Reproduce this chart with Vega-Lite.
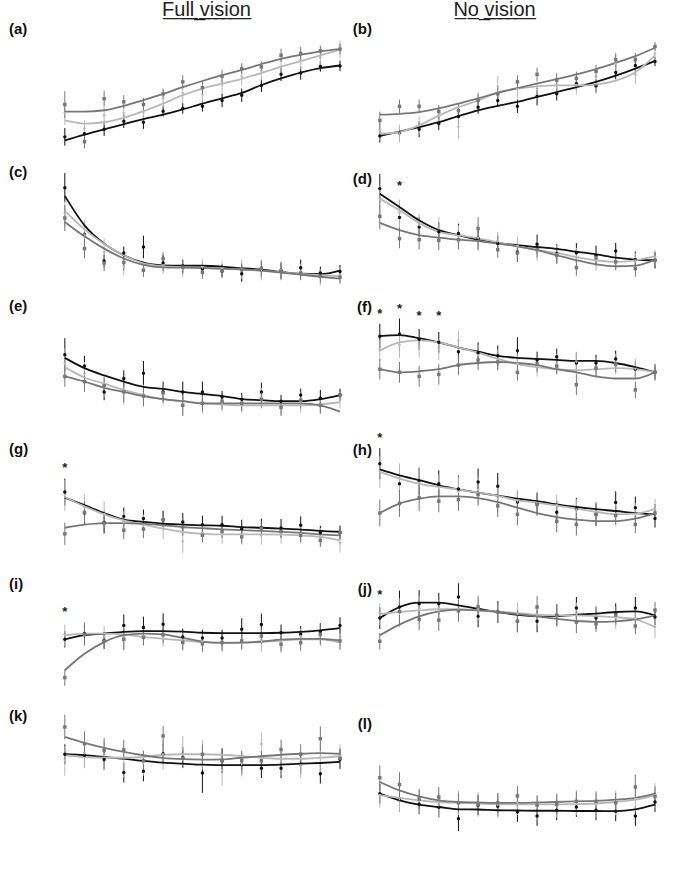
{
"$schema":"https://vega.github.io/schema/vega-lite/v6.json",
"background":"white",
"padding":{"left":9,"top":0,"right":5,"bottom":0},
"bounds":"flush",
"columns":2,
"spacing":{"row":11.4,"column":30},
"config":{
 "font":"Liberation Sans",
 "view":{"stroke":null},
 "axis":{"grid":false,"domainColor":"#555","tickColor":"#555","labelFontWeight":"bold","titleFontWeight":"bold","labelColor":"#333","titleColor":"#333"},
 "axisX":{"tickSize":3,"labelFontSize":12,"titleFontSize":12,"labelPadding":4,"titlePadding":12,"labelColor":"#222","titleColor":"#222"},
 "axisY":{"ticks":false,"labelFontSize":9,"labelPadding":9,"titleFontSize":9,"titlePadding":3,"titleLineHeight":12.5},
 "title":{"fontSize":20,"fontWeight":"normal","color":"#222","baseline":"alphabetic","offset":2,"anchor":"middle"}
},
"datasets":{
"s":[{"p":"d","l":2,"y":12.9},{"p":"f","l":1,"y":9.11},{"p":"f","l":2,"y":9.16},{"p":"f","l":3,"y":9.09},{"p":"f","l":4,"y":9.09},{"p":"g","l":1,"y":68.1},{"p":"h","l":1,"y":81.6},{"p":"i","l":1,"y":57.6},{"p":"j","l":1,"y":63.9}],
"d":[
{"p":"a","m":"Metal","l":1,"y":-1.02,"e":0.2,"f":-1.1},{"p":"a","m":"Metal","l":2,"y":-0.95,"e":0.15,"f":-0.97},{"p":"a","m":"Metal","l":3,"y":-0.85,"e":0.15,"f":-0.85},{"p":"a","m":"Metal","l":4,"y":-0.67,"e":0.15,"f":-0.73},{"p":"a","m":"Metal","l":5,"y":-0.69,"e":0.15,"f":-0.62},{"p":"a","m":"Metal","l":6,"y":-0.44,"e":0.12,"f":-0.52},{"p":"a","m":"Metal","l":7,"y":-0.38,"e":0.12,"f":-0.4},{"p":"a","m":"Metal","l":8,"y":-0.33,"e":0.12,"f":-0.27},{"p":"a","m":"Metal","l":9,"y":-0.2,"e":0.15,"f":-0.15},{"p":"a","m":"Metal","l":10,"y":-0.08,"e":0.15,"f":-0.03},{"p":"a","m":"Metal","l":11,"y":0.14,"e":0.15,"f":0.15},{"p":"a","m":"Metal","l":12,"y":0.39,"e":0.15,"f":0.3},{"p":"a","m":"Metal","l":13,"y":0.42,"e":0.15,"f":0.43},{"p":"a","m":"Metal","l":14,"y":0.57,"e":0.12,"f":0.53},{"p":"a","m":"Metal","l":15,"y":0.58,"e":0.12,"f":0.59},
{"p":"a","m":"Wood","l":1,"y":-0.5,"e":0.25,"f":-0.65},{"p":"a","m":"Wood","l":2,"y":-0.85,"e":0.2,"f":-0.72},{"p":"a","m":"Wood","l":3,"y":-0.55,"e":0.2,"f":-0.69},{"p":"a","m":"Wood","l":4,"y":-0.5,"e":0.2,"f":-0.59},{"p":"a","m":"Wood","l":5,"y":-0.48,"e":0.2,"f":-0.44},{"p":"a","m":"Wood","l":6,"y":-0.16,"e":0.2,"f":-0.27},{"p":"a","m":"Wood","l":7,"y":-0.05,"e":0.2,"f":-0.08},{"p":"a","m":"Wood","l":8,"y":-0.08,"e":0.2,"f":0.07},{"p":"a","m":"Wood","l":9,"y":0.15,"e":0.2,"f":0.18},{"p":"a","m":"Wood","l":10,"y":0.33,"e":0.2,"f":0.29},{"p":"a","m":"Wood","l":11,"y":0.45,"e":0.2,"f":0.42},{"p":"a","m":"Wood","l":12,"y":0.55,"e":0.2,"f":0.56},{"p":"a","m":"Wood","l":13,"y":0.7,"e":0.2,"f":0.69},{"p":"a","m":"Wood","l":14,"y":0.75,"e":0.2,"f":0.82},{"p":"a","m":"Wood","l":15,"y":0.95,"e":0.2,"f":0.95},
{"p":"a","m":"Polystyrene","l":1,"y":-0.29,"e":0.3,"f":-0.45},{"p":"a","m":"Polystyrene","l":2,"y":-1.13,"e":0.15,"f":-0.45},{"p":"a","m":"Polystyrene","l":3,"y":-0.16,"e":0.18,"f":-0.42},{"p":"a","m":"Polystyrene","l":4,"y":-0.23,"e":0.15,"f":-0.32},{"p":"a","m":"Polystyrene","l":5,"y":-0.29,"e":0.15,"f":-0.19},{"p":"a","m":"Polystyrene","l":6,"y":-0.05,"e":0.12,"f":-0.05},{"p":"a","m":"Polystyrene","l":7,"y":0.22,"e":0.15,"f":0.1},{"p":"a","m":"Polystyrene","l":8,"y":0.09,"e":0.15,"f":0.24},{"p":"a","m":"Polystyrene","l":9,"y":0.35,"e":0.15,"f":0.37},{"p":"a","m":"Polystyrene","l":10,"y":0.52,"e":0.12,"f":0.49},{"p":"a","m":"Polystyrene","l":11,"y":0.56,"e":0.12,"f":0.62},{"p":"a","m":"Polystyrene","l":12,"y":0.82,"e":0.15,"f":0.74},{"p":"a","m":"Polystyrene","l":13,"y":0.86,"e":0.15,"f":0.83},{"p":"a","m":"Polystyrene","l":14,"y":0.92,"e":0.12,"f":0.91},{"p":"a","m":"Polystyrene","l":15,"y":0.96,"e":0.12,"f":0.96},
{"p":"b","m":"Metal","l":1,"y":-1.0,"e":0.15,"f":-1.0},{"p":"b","m":"Metal","l":2,"y":-0.93,"e":0.15,"f":-0.9},{"p":"b","m":"Metal","l":3,"y":-0.85,"e":0.18,"f":-0.8},{"p":"b","m":"Metal","l":4,"y":-0.72,"e":0.15,"f":-0.69},{"p":"b","m":"Metal","l":5,"y":-0.56,"e":0.18,"f":-0.55},{"p":"b","m":"Metal","l":6,"y":-0.35,"e":0.15,"f":-0.42},{"p":"b","m":"Metal","l":7,"y":-0.2,"e":0.15,"f":-0.32},{"p":"b","m":"Metal","l":8,"y":-0.33,"e":0.15,"f":-0.23},{"p":"b","m":"Metal","l":9,"y":-0.11,"e":0.2,"f":-0.12},{"p":"b","m":"Metal","l":10,"y":-0.05,"e":0.15,"f":-0.01},{"p":"b","m":"Metal","l":11,"y":0.18,"e":0.15,"f":0.1},{"p":"b","m":"Metal","l":12,"y":0.13,"e":0.15,"f":0.22},{"p":"b","m":"Metal","l":13,"y":0.43,"e":0.15,"f":0.36},{"p":"b","m":"Metal","l":14,"y":0.59,"e":0.15,"f":0.52},{"p":"b","m":"Metal","l":15,"y":0.68,"e":0.1,"f":0.69},
{"p":"b","m":"Wood","l":1,"y":-0.89,"e":0.2,"f":-0.95},{"p":"b","m":"Wood","l":2,"y":-0.95,"e":0.2,"f":-0.91},{"p":"b","m":"Wood","l":3,"y":-0.76,"e":0.2,"f":-0.76},{"p":"b","m":"Wood","l":4,"y":-0.54,"e":0.2,"f":-0.54},{"p":"b","m":"Wood","l":5,"y":-0.81,"e":0.25,"f":-0.35},{"p":"b","m":"Wood","l":6,"y":-0.2,"e":0.2,"f":-0.2},{"p":"b","m":"Wood","l":7,"y":0.1,"e":0.25,"f":-0.01},{"p":"b","m":"Wood","l":8,"y":0.05,"e":0.2,"f":0.07},{"p":"b","m":"Wood","l":9,"y":0.03,"e":0.2,"f":0.12},{"p":"b","m":"Wood","l":10,"y":0.12,"e":0.2,"f":0.14},{"p":"b","m":"Wood","l":11,"y":0.14,"e":0.2,"f":0.14},{"p":"b","m":"Wood","l":12,"y":0.16,"e":0.2,"f":0.16},{"p":"b","m":"Wood","l":13,"y":0.62,"e":0.2,"f":0.25},{"p":"b","m":"Wood","l":14,"y":0.37,"e":0.2,"f":0.44},{"p":"b","m":"Wood","l":15,"y":0.85,"e":0.2,"f":0.82},
{"p":"b","m":"Polystyrene","l":1,"y":-0.65,"e":0.2,"f":-0.52},{"p":"b","m":"Polystyrene","l":2,"y":-0.33,"e":0.15,"f":-0.5},{"p":"b","m":"Polystyrene","l":3,"y":-0.33,"e":0.15,"f":-0.46},{"p":"b","m":"Polystyrene","l":4,"y":-0.45,"e":0.15,"f":-0.38},{"p":"b","m":"Polystyrene","l":5,"y":-0.43,"e":0.15,"f":-0.27},{"p":"b","m":"Polystyrene","l":6,"y":-0.2,"e":0.15,"f":-0.15},{"p":"b","m":"Polystyrene","l":7,"y":-0.05,"e":0.15,"f":-0.03},{"p":"b","m":"Polystyrene","l":8,"y":0.22,"e":0.15,"f":0.08},{"p":"b","m":"Polystyrene","l":9,"y":0.39,"e":0.15,"f":0.18},{"p":"b","m":"Polystyrene","l":10,"y":0.26,"e":0.15,"f":0.28},{"p":"b","m":"Polystyrene","l":11,"y":0.3,"e":0.15,"f":0.39},{"p":"b","m":"Polystyrene","l":12,"y":0.46,"e":0.15,"f":0.51},{"p":"b","m":"Polystyrene","l":13,"y":0.72,"e":0.15,"f":0.65},{"p":"b","m":"Polystyrene","l":14,"y":0.72,"e":0.15,"f":0.8},{"p":"b","m":"Polystyrene","l":15,"y":1.02,"e":0.1,"f":0.99},
{"p":"c","m":"Metal","l":1,"y":12.63,"e":0.9,"f":12.12},{"p":"c","m":"Metal","l":2,"y":9.75,"e":0.6,"f":10.3},{"p":"c","m":"Metal","l":3,"y":8.1,"e":0.4,"f":9.17},{"p":"c","m":"Metal","l":4,"y":8.59,"e":0.4,"f":8.45},{"p":"c","m":"Metal","l":5,"y":8.96,"e":0.7,"f":7.99},{"p":"c","m":"Metal","l":6,"y":7.97,"e":0.5,"f":7.83},{"p":"c","m":"Metal","l":7,"y":7.78,"e":0.4,"f":7.8},{"p":"c","m":"Metal","l":8,"y":7.6,"e":0.4,"f":7.8},{"p":"c","m":"Metal","l":9,"y":7.48,"e":0.4,"f":7.75},{"p":"c","m":"Metal","l":10,"y":7.31,"e":0.5,"f":7.65},{"p":"c","m":"Metal","l":11,"y":7.56,"e":0.5,"f":7.56},{"p":"c","m":"Metal","l":12,"y":7.52,"e":0.5,"f":7.42},{"p":"c","m":"Metal","l":13,"y":7.68,"e":0.5,"f":7.31},{"p":"c","m":"Metal","l":14,"y":7.35,"e":0.4,"f":7.28},{"p":"c","m":"Metal","l":15,"y":7.45,"e":0.4,"f":7.5},
{"p":"c","m":"Wood","l":1,"y":11.0,"e":0.8,"f":11.19},{"p":"c","m":"Wood","l":2,"y":9.7,"e":0.9,"f":10.05},{"p":"c","m":"Wood","l":3,"y":8.6,"e":0.9,"f":9.15},{"p":"c","m":"Wood","l":4,"y":7.7,"e":0.5,"f":8.45},{"p":"c","m":"Wood","l":5,"y":7.6,"e":0.5,"f":7.95},{"p":"c","m":"Wood","l":6,"y":7.8,"e":0.5,"f":7.78},{"p":"c","m":"Wood","l":7,"y":7.6,"e":0.5,"f":7.72},{"p":"c","m":"Wood","l":8,"y":7.7,"e":0.5,"f":7.68},{"p":"c","m":"Wood","l":9,"y":7.6,"e":0.5,"f":7.62},{"p":"c","m":"Wood","l":10,"y":7.6,"e":0.6,"f":7.57},{"p":"c","m":"Wood","l":11,"y":7.5,"e":0.6,"f":7.5},{"p":"c","m":"Wood","l":12,"y":7.5,"e":0.6,"f":7.4},{"p":"c","m":"Wood","l":13,"y":7.4,"e":0.5,"f":7.3},{"p":"c","m":"Wood","l":14,"y":7.1,"e":0.5,"f":7.22},{"p":"c","m":"Wood","l":15,"y":7.2,"e":0.5,"f":7.15},
{"p":"c","m":"Polystyrene","l":1,"y":10.75,"e":0.8,"f":10.51},{"p":"c","m":"Polystyrene","l":2,"y":8.86,"e":0.6,"f":9.62},{"p":"c","m":"Polystyrene","l":3,"y":7.97,"e":0.5,"f":8.86},{"p":"c","m":"Polystyrene","l":4,"y":8.0,"e":0.5,"f":8.25},{"p":"c","m":"Polystyrene","l":5,"y":7.52,"e":0.4,"f":7.85},{"p":"c","m":"Polystyrene","l":6,"y":8.24,"e":0.4,"f":7.7},{"p":"c","m":"Polystyrene","l":7,"y":7.7,"e":0.4,"f":7.68},{"p":"c","m":"Polystyrene","l":8,"y":7.4,"e":0.4,"f":7.66},{"p":"c","m":"Polystyrene","l":9,"y":7.5,"e":0.4,"f":7.62},{"p":"c","m":"Polystyrene","l":10,"y":7.55,"e":0.4,"f":7.58},{"p":"c","m":"Polystyrene","l":11,"y":7.65,"e":0.5,"f":7.5},{"p":"c","m":"Polystyrene","l":12,"y":7.45,"e":0.5,"f":7.38},{"p":"c","m":"Polystyrene","l":13,"y":7.35,"e":0.4,"f":7.25},{"p":"c","m":"Polystyrene","l":14,"y":7.15,"e":0.4,"f":7.12},{"p":"c","m":"Polystyrene","l":15,"y":7.1,"e":0.4,"f":7.0},
{"p":"d","m":"Metal","l":1,"y":12.57,"e":0.9,"f":12.26},{"p":"d","m":"Metal","l":2,"y":10.78,"e":0.9,"f":11.44},{"p":"d","m":"Metal","l":3,"y":10.2,"e":0.6,"f":10.61},{"p":"d","m":"Metal","l":4,"y":9.9,"e":0.6,"f":10.0},{"p":"d","m":"Metal","l":5,"y":9.8,"e":0.6,"f":9.69},{"p":"d","m":"Metal","l":6,"y":9.5,"e":0.7,"f":9.41},{"p":"d","m":"Metal","l":7,"y":9.17,"e":0.5,"f":9.21},{"p":"d","m":"Metal","l":8,"y":8.65,"e":0.6,"f":9.07},{"p":"d","m":"Metal","l":9,"y":9.13,"e":0.6,"f":8.96},{"p":"d","m":"Metal","l":10,"y":8.55,"e":0.6,"f":8.84},{"p":"d","m":"Metal","l":11,"y":8.6,"e":0.6,"f":8.67},{"p":"d","m":"Metal","l":12,"y":8.45,"e":0.6,"f":8.51},{"p":"d","m":"Metal","l":13,"y":8.71,"e":0.5,"f":8.3},{"p":"d","m":"Metal","l":14,"y":8.18,"e":0.5,"f":8.18},{"p":"d","m":"Metal","l":15,"y":8.14,"e":0.5,"f":8.14},
{"p":"d","m":"Wood","l":1,"y":11.9,"e":0.9,"f":11.95},{"p":"d","m":"Wood","l":2,"y":11.0,"e":0.9,"f":11.23},{"p":"d","m":"Wood","l":3,"y":10.3,"e":0.7,"f":10.45},{"p":"d","m":"Wood","l":4,"y":10.1,"e":0.7,"f":9.89},{"p":"d","m":"Wood","l":5,"y":9.6,"e":0.7,"f":9.69},{"p":"d","m":"Wood","l":6,"y":9.5,"e":0.8,"f":9.5},{"p":"d","m":"Wood","l":7,"y":9.3,"e":0.6,"f":9.25},{"p":"d","m":"Wood","l":8,"y":9.0,"e":0.6,"f":9.0},{"p":"d","m":"Wood","l":9,"y":8.7,"e":0.6,"f":8.76},{"p":"d","m":"Wood","l":10,"y":8.5,"e":0.6,"f":8.59},{"p":"d","m":"Wood","l":11,"y":8.3,"e":0.6,"f":8.34},{"p":"d","m":"Wood","l":12,"y":8.1,"e":0.6,"f":8.14},{"p":"d","m":"Wood","l":13,"y":8.0,"e":0.5,"f":8.04},{"p":"d","m":"Wood","l":14,"y":8.1,"e":0.5,"f":8.14},{"p":"d","m":"Wood","l":15,"y":8.3,"e":0.5,"f":8.39},
{"p":"d","m":"Polystyrene","l":1,"y":10.86,"e":0.8,"f":10.45},{"p":"d","m":"Polystyrene","l":2,"y":9.48,"e":0.6,"f":10.0},{"p":"d","m":"Polystyrene","l":3,"y":9.41,"e":0.6,"f":9.69},{"p":"d","m":"Polystyrene","l":4,"y":9.37,"e":0.6,"f":9.54},{"p":"d","m":"Polystyrene","l":5,"y":9.41,"e":0.6,"f":9.41},{"p":"d","m":"Polystyrene","l":6,"y":10.1,"e":0.7,"f":9.33},{"p":"d","m":"Polystyrene","l":7,"y":8.8,"e":0.5,"f":9.17},{"p":"d","m":"Polystyrene","l":8,"y":8.59,"e":0.5,"f":9.0},{"p":"d","m":"Polystyrene","l":9,"y":8.8,"e":0.5,"f":8.76},{"p":"d","m":"Polystyrene","l":10,"y":8.45,"e":0.5,"f":8.45},{"p":"d","m":"Polystyrene","l":11,"y":7.68,"e":0.5,"f":8.14},{"p":"d","m":"Polystyrene","l":12,"y":8.3,"e":0.5,"f":7.89},{"p":"d","m":"Polystyrene","l":13,"y":8.04,"e":0.5,"f":7.77},{"p":"d","m":"Polystyrene","l":14,"y":7.62,"e":0.5,"f":7.81},{"p":"d","m":"Polystyrene","l":15,"y":8.14,"e":0.5,"f":8.18},
{"p":"e","m":"Metal","l":1,"y":8.69,"e":0.16,"f":8.66},{"p":"e","m":"Metal","l":2,"y":8.58,"e":0.1,"f":8.56},{"p":"e","m":"Metal","l":3,"y":8.33,"e":0.08,"f":8.49},{"p":"e","m":"Metal","l":4,"y":8.46,"e":0.08,"f":8.43},{"p":"e","m":"Metal","l":5,"y":8.51,"e":0.12,"f":8.38},{"p":"e","m":"Metal","l":6,"y":8.33,"e":0.1,"f":8.36},{"p":"e","m":"Metal","l":7,"y":8.33,"e":0.1,"f":8.33},{"p":"e","m":"Metal","l":8,"y":8.33,"e":0.1,"f":8.31},{"p":"e","m":"Metal","l":9,"y":8.28,"e":0.06,"f":8.29},{"p":"e","m":"Metal","l":10,"y":8.26,"e":0.06,"f":8.26},{"p":"e","m":"Metal","l":11,"y":8.33,"e":0.09,"f":8.25},{"p":"e","m":"Metal","l":12,"y":8.24,"e":0.06,"f":8.24},{"p":"e","m":"Metal","l":13,"y":8.3,"e":0.06,"f":8.24},{"p":"e","m":"Metal","l":14,"y":8.27,"e":0.08,"f":8.26},{"p":"e","m":"Metal","l":15,"y":8.3,"e":0.06,"f":8.3},
{"p":"e","m":"Wood","l":1,"y":8.6,"e":0.15,"f":8.57},{"p":"e","m":"Wood","l":2,"y":8.5,"e":0.12,"f":8.47},{"p":"e","m":"Wood","l":3,"y":8.38,"e":0.1,"f":8.41},{"p":"e","m":"Wood","l":4,"y":8.32,"e":0.12,"f":8.35},{"p":"e","m":"Wood","l":5,"y":8.3,"e":0.1,"f":8.3},{"p":"e","m":"Wood","l":6,"y":8.3,"e":0.1,"f":8.26},{"p":"e","m":"Wood","l":7,"y":8.2,"e":0.1,"f":8.24},{"p":"e","m":"Wood","l":8,"y":8.22,"e":0.1,"f":8.22},{"p":"e","m":"Wood","l":9,"y":8.22,"e":0.08,"f":8.21},{"p":"e","m":"Wood","l":10,"y":8.22,"e":0.08,"f":8.2},{"p":"e","m":"Wood","l":11,"y":8.27,"e":0.1,"f":8.2},{"p":"e","m":"Wood","l":12,"y":8.18,"e":0.08,"f":8.2},{"p":"e","m":"Wood","l":13,"y":8.23,"e":0.1,"f":8.2},{"p":"e","m":"Wood","l":14,"y":8.2,"e":0.08,"f":8.21},{"p":"e","m":"Wood","l":15,"y":8.25,"e":0.08,"f":8.23},
{"p":"e","m":"Polystyrene","l":1,"y":8.48,"e":0.1,"f":8.48},{"p":"e","m":"Polystyrene","l":2,"y":8.43,"e":0.1,"f":8.43},{"p":"e","m":"Polystyrene","l":3,"y":8.39,"e":0.08,"f":8.37},{"p":"e","m":"Polystyrene","l":4,"y":8.33,"e":0.1,"f":8.33},{"p":"e","m":"Polystyrene","l":5,"y":8.29,"e":0.1,"f":8.29},{"p":"e","m":"Polystyrene","l":6,"y":8.32,"e":0.08,"f":8.26},{"p":"e","m":"Polystyrene","l":7,"y":8.2,"e":0.1,"f":8.24},{"p":"e","m":"Polystyrene","l":8,"y":8.22,"e":0.08,"f":8.22},{"p":"e","m":"Polystyrene","l":9,"y":8.24,"e":0.08,"f":8.22},{"p":"e","m":"Polystyrene","l":10,"y":8.22,"e":0.08,"f":8.22},{"p":"e","m":"Polystyrene","l":11,"y":8.26,"e":0.08,"f":8.22},{"p":"e","m":"Polystyrene","l":12,"y":8.18,"e":0.08,"f":8.22},{"p":"e","m":"Polystyrene","l":13,"y":8.25,"e":0.08,"f":8.22},{"p":"e","m":"Polystyrene","l":14,"y":8.2,"e":0.08,"f":8.2},{"p":"e","m":"Polystyrene","l":15,"y":8.3,"e":0.06,"f":8.14},
{"p":"f","m":"Metal","l":1,"y":8.87,"e":0.12,"f":8.87},{"p":"f","m":"Metal","l":2,"y":8.89,"e":0.15,"f":8.88},{"p":"f","m":"Metal","l":3,"y":8.84,"e":0.1,"f":8.85},{"p":"f","m":"Metal","l":4,"y":8.81,"e":0.1,"f":8.81},{"p":"f","m":"Metal","l":5,"y":8.72,"e":0.1,"f":8.76},{"p":"f","m":"Metal","l":6,"y":8.71,"e":0.1,"f":8.72},{"p":"f","m":"Metal","l":7,"y":8.68,"e":0.1,"f":8.68},{"p":"f","m":"Metal","l":8,"y":8.73,"e":0.13,"f":8.66},{"p":"f","m":"Metal","l":9,"y":8.64,"e":0.08,"f":8.65},{"p":"f","m":"Metal","l":10,"y":8.67,"e":0.08,"f":8.64},{"p":"f","m":"Metal","l":11,"y":8.61,"e":0.1,"f":8.63},{"p":"f","m":"Metal","l":12,"y":8.61,"e":0.08,"f":8.63},{"p":"f","m":"Metal","l":13,"y":8.65,"e":0.08,"f":8.61},{"p":"f","m":"Metal","l":14,"y":8.55,"e":0.08,"f":8.57},{"p":"f","m":"Metal","l":15,"y":8.52,"e":0.06,"f":8.52},
{"p":"f","m":"Wood","l":1,"y":8.73,"e":0.1,"f":8.73},{"p":"f","m":"Wood","l":2,"y":8.78,"e":0.12,"f":8.81},{"p":"f","m":"Wood","l":3,"y":8.76,"e":0.1,"f":8.83},{"p":"f","m":"Wood","l":4,"y":8.74,"e":0.1,"f":8.81},{"p":"f","m":"Wood","l":5,"y":8.82,"e":0.1,"f":8.76},{"p":"f","m":"Wood","l":6,"y":8.68,"e":0.1,"f":8.71},{"p":"f","m":"Wood","l":7,"y":8.64,"e":0.1,"f":8.65},{"p":"f","m":"Wood","l":8,"y":8.6,"e":0.1,"f":8.6},{"p":"f","m":"Wood","l":9,"y":8.58,"e":0.1,"f":8.57},{"p":"f","m":"Wood","l":10,"y":8.6,"e":0.1,"f":8.55},{"p":"f","m":"Wood","l":11,"y":8.62,"e":0.1,"f":8.54},{"p":"f","m":"Wood","l":12,"y":8.56,"e":0.1,"f":8.55},{"p":"f","m":"Wood","l":13,"y":8.6,"e":0.1,"f":8.56},{"p":"f","m":"Wood","l":14,"y":8.55,"e":0.1,"f":8.55},{"p":"f","m":"Wood","l":15,"y":8.52,"e":0.08,"f":8.52},
{"p":"f","m":"Polystyrene","l":1,"y":8.55,"e":0.1,"f":8.55},{"p":"f","m":"Polystyrene","l":2,"y":8.52,"e":0.1,"f":8.52},{"p":"f","m":"Polystyrene","l":3,"y":8.48,"e":0.1,"f":8.53},{"p":"f","m":"Polystyrene","l":4,"y":8.5,"e":0.1,"f":8.55},{"p":"f","m":"Polystyrene","l":5,"y":8.59,"e":0.1,"f":8.59},{"p":"f","m":"Polystyrene","l":6,"y":8.64,"e":0.1,"f":8.61},{"p":"f","m":"Polystyrene","l":7,"y":8.62,"e":0.08,"f":8.62},{"p":"f","m":"Polystyrene","l":8,"y":8.52,"e":0.08,"f":8.61},{"p":"f","m":"Polystyrene","l":9,"y":8.6,"e":0.08,"f":8.59},{"p":"f","m":"Polystyrene","l":10,"y":8.58,"e":0.08,"f":8.55},{"p":"f","m":"Polystyrene","l":11,"y":8.4,"e":0.1,"f":8.52},{"p":"f","m":"Polystyrene","l":12,"y":8.56,"e":0.08,"f":8.48},{"p":"f","m":"Polystyrene","l":13,"y":8.6,"e":0.08,"f":8.46},{"p":"f","m":"Polystyrene","l":14,"y":8.35,"e":0.08,"f":8.46},{"p":"f","m":"Polystyrene","l":15,"y":8.52,"e":0.08,"f":8.52},
{"p":"g","m":"Metal","l":1,"y":56.1,"e":6,"f":53.6},{"p":"g","m":"Metal","l":2,"y":46.7,"e":5,"f":50.2},{"p":"g","m":"Metal","l":3,"y":42.5,"e":5,"f":46.7},{"p":"g","m":"Metal","l":4,"y":45.2,"e":4,"f":43.7},{"p":"g","m":"Metal","l":5,"y":44.2,"e":4,"f":42.7},{"p":"g","m":"Metal","l":6,"y":43.7,"e":4,"f":41.9},{"p":"g","m":"Metal","l":7,"y":42.7,"e":4,"f":41.5},{"p":"g","m":"Metal","l":8,"y":41.5,"e":4,"f":41.2},{"p":"g","m":"Metal","l":9,"y":41.5,"e":4,"f":41.0},{"p":"g","m":"Metal","l":10,"y":39.7,"e":4,"f":40.4},{"p":"g","m":"Metal","l":11,"y":40.2,"e":4,"f":40.1},{"p":"g","m":"Metal","l":12,"y":40.0,"e":4,"f":39.7},{"p":"g","m":"Metal","l":13,"y":41.2,"e":4,"f":39.3},{"p":"g","m":"Metal","l":14,"y":38.0,"e":3,"f":38.7},{"p":"g","m":"Metal","l":15,"y":38.0,"e":3,"f":38.3},
{"p":"g","m":"Wood","l":1,"y":54.5,"e":7,"f":53.9},{"p":"g","m":"Wood","l":2,"y":49.0,"e":6,"f":49.7},{"p":"g","m":"Wood","l":3,"y":46.0,"e":6,"f":46.1},{"p":"g","m":"Wood","l":4,"y":42.5,"e":5,"f":43.4},{"p":"g","m":"Wood","l":5,"y":41.0,"e":5,"f":41.5},{"p":"g","m":"Wood","l":6,"y":40.0,"e":5,"f":39.7},{"p":"g","m":"Wood","l":7,"y":33.7,"e":5,"f":38.2},{"p":"g","m":"Wood","l":8,"y":37.5,"e":4,"f":37.4},{"p":"g","m":"Wood","l":9,"y":37.0,"e":4,"f":37.1},{"p":"g","m":"Wood","l":10,"y":36.5,"e":4,"f":37.1},{"p":"g","m":"Wood","l":11,"y":36.5,"e":4,"f":37.1},{"p":"g","m":"Wood","l":12,"y":37.0,"e":4,"f":37.0},{"p":"g","m":"Wood","l":13,"y":37.0,"e":4,"f":36.7},{"p":"g","m":"Wood","l":14,"y":36.0,"e":4,"f":36.0},{"p":"g","m":"Wood","l":15,"y":33.0,"e":4,"f":34.5},
{"p":"g","m":"Polystyrene","l":1,"y":37.4,"e":5,"f":40.1},{"p":"g","m":"Polystyrene","l":2,"y":47.0,"e":5,"f":41.5},{"p":"g","m":"Polystyrene","l":3,"y":42.2,"e":4,"f":42.2},{"p":"g","m":"Polystyrene","l":4,"y":39.0,"e":4,"f":42.2},{"p":"g","m":"Polystyrene","l":5,"y":39.5,"e":4,"f":41.8},{"p":"g","m":"Polystyrene","l":6,"y":43.7,"e":4,"f":41.2},{"p":"g","m":"Polystyrene","l":7,"y":40.5,"e":4,"f":40.4},{"p":"g","m":"Polystyrene","l":8,"y":36.7,"e":3,"f":39.9},{"p":"g","m":"Polystyrene","l":9,"y":38.5,"e":3,"f":39.4},{"p":"g","m":"Polystyrene","l":10,"y":36.0,"e":3,"f":39.0},{"p":"g","m":"Polystyrene","l":11,"y":40.0,"e":3,"f":38.7},{"p":"g","m":"Polystyrene","l":12,"y":38.5,"e":3,"f":38.3},{"p":"g","m":"Polystyrene","l":13,"y":36.7,"e":3,"f":37.8},{"p":"g","m":"Polystyrene","l":14,"y":34.5,"e":3,"f":37.1},{"p":"g","m":"Polystyrene","l":15,"y":38.0,"e":3,"f":36.7},
{"p":"h","m":"Metal","l":1,"y":68.8,"e":7,"f":66.3},{"p":"h","m":"Metal","l":2,"y":59.8,"e":7,"f":63.6},{"p":"h","m":"Metal","l":3,"y":61.0,"e":6,"f":61.4},{"p":"h","m":"Metal","l":4,"y":59.8,"e":6,"f":59.1},{"p":"h","m":"Metal","l":5,"y":57.5,"e":6,"f":57.3},{"p":"h","m":"Metal","l":6,"y":60.6,"e":6,"f":55.8},{"p":"h","m":"Metal","l":7,"y":58.7,"e":6,"f":54.5},{"p":"h","m":"Metal","l":8,"y":51.6,"e":5,"f":53.1},{"p":"h","m":"Metal","l":9,"y":50.9,"e":5,"f":52.0},{"p":"h","m":"Metal","l":10,"y":47.0,"e":5,"f":50.6},{"p":"h","m":"Metal","l":11,"y":48.5,"e":5,"f":49.4},{"p":"h","m":"Metal","l":12,"y":46.0,"e":5,"f":48.4},{"p":"h","m":"Metal","l":13,"y":51.4,"e":5,"f":47.6},{"p":"h","m":"Metal","l":14,"y":49.1,"e":5,"f":46.7},{"p":"h","m":"Metal","l":15,"y":44.2,"e":4,"f":46.1},
{"p":"h","m":"Wood","l":1,"y":65.0,"e":7,"f":65.1},{"p":"h","m":"Wood","l":2,"y":62.0,"e":7,"f":62.1},{"p":"h","m":"Wood","l":3,"y":60.0,"e":7,"f":59.8},{"p":"h","m":"Wood","l":4,"y":58.0,"e":6,"f":58.4},{"p":"h","m":"Wood","l":5,"y":56.0,"e":7,"f":57.2},{"p":"h","m":"Wood","l":6,"y":57.0,"e":6,"f":55.8},{"p":"h","m":"Wood","l":7,"y":53.0,"e":6,"f":54.4},{"p":"h","m":"Wood","l":8,"y":52.0,"e":5,"f":52.4},{"p":"h","m":"Wood","l":9,"y":51.0,"e":5,"f":51.4},{"p":"h","m":"Wood","l":10,"y":50.0,"e":5,"f":50.0},{"p":"h","m":"Wood","l":11,"y":48.0,"e":5,"f":48.7},{"p":"h","m":"Wood","l":12,"y":47.0,"e":5,"f":47.2},{"p":"h","m":"Wood","l":13,"y":46.0,"e":5,"f":46.1},{"p":"h","m":"Wood","l":14,"y":46.0,"e":5,"f":46.4},{"p":"h","m":"Wood","l":15,"y":48.0,"e":5,"f":48.6},
{"p":"h","m":"Polystyrene","l":1,"y":46.7,"e":6,"f":46.7},{"p":"h","m":"Polystyrene","l":2,"y":51.0,"e":6,"f":50.9},{"p":"h","m":"Polystyrene","l":3,"y":53.5,"e":6,"f":53.1},{"p":"h","m":"Polystyrene","l":4,"y":52.0,"e":5,"f":54.2},{"p":"h","m":"Polystyrene","l":5,"y":52.7,"e":5,"f":54.2},{"p":"h","m":"Polystyrene","l":6,"y":55.0,"e":5,"f":53.4},{"p":"h","m":"Polystyrene","l":7,"y":49.9,"e":5,"f":51.6},{"p":"h","m":"Polystyrene","l":8,"y":46.1,"e":5,"f":49.1},{"p":"h","m":"Polystyrene","l":9,"y":50.5,"e":5,"f":46.7},{"p":"h","m":"Polystyrene","l":10,"y":43.0,"e":5,"f":44.9},{"p":"h","m":"Polystyrene","l":11,"y":41.6,"e":5,"f":43.7},{"p":"h","m":"Polystyrene","l":12,"y":46.1,"e":5,"f":43.1},{"p":"h","m":"Polystyrene","l":13,"y":45.6,"e":4,"f":43.1},{"p":"h","m":"Polystyrene","l":14,"y":41.6,"e":4,"f":44.2},{"p":"h","m":"Polystyrene","l":15,"y":46.7,"e":4,"f":46.7},
{"p":"i","m":"Metal","l":1,"y":46.6,"e":3,"f":46.6},{"p":"i","m":"Metal","l":2,"y":48.7,"e":4,"f":48.1},{"p":"i","m":"Metal","l":3,"y":46.2,"e":3,"f":48.7},{"p":"i","m":"Metal","l":4,"y":51.7,"e":4,"f":49.3},{"p":"i","m":"Metal","l":5,"y":50.9,"e":4,"f":49.6},{"p":"i","m":"Metal","l":6,"y":52.1,"e":4,"f":49.6},{"p":"i","m":"Metal","l":7,"y":47.5,"e":3,"f":49.4},{"p":"i","m":"Metal","l":8,"y":47.1,"e":3,"f":49.0},{"p":"i","m":"Metal","l":9,"y":47.1,"e":3,"f":48.9},{"p":"i","m":"Metal","l":10,"y":50.3,"e":4,"f":48.9},{"p":"i","m":"Metal","l":11,"y":52.0,"e":4,"f":48.9},{"p":"i","m":"Metal","l":12,"y":49.0,"e":3,"f":49.0},{"p":"i","m":"Metal","l":13,"y":48.5,"e":3,"f":49.3},{"p":"i","m":"Metal","l":14,"y":49.5,"e":3,"f":49.9},{"p":"i","m":"Metal","l":15,"y":51.7,"e":3,"f":50.7},
{"p":"i","m":"Wood","l":1,"y":48.0,"e":4,"f":48.1},{"p":"i","m":"Wood","l":2,"y":48.5,"e":4,"f":48.7},{"p":"i","m":"Wood","l":3,"y":47.5,"e":4,"f":48.7},{"p":"i","m":"Wood","l":4,"y":47.0,"e":4,"f":48.4},{"p":"i","m":"Wood","l":5,"y":47.5,"e":3,"f":47.5},{"p":"i","m":"Wood","l":6,"y":47.0,"e":3,"f":46.8},{"p":"i","m":"Wood","l":7,"y":46.0,"e":3,"f":46.2},{"p":"i","m":"Wood","l":8,"y":45.5,"e":3,"f":45.6},{"p":"i","m":"Wood","l":9,"y":45.0,"e":3,"f":45.4},{"p":"i","m":"Wood","l":10,"y":45.5,"e":3,"f":45.4},{"p":"i","m":"Wood","l":11,"y":46.0,"e":4,"f":45.6},{"p":"i","m":"Wood","l":12,"y":45.5,"e":3,"f":46.1},{"p":"i","m":"Wood","l":13,"y":47.5,"e":3,"f":46.6},{"p":"i","m":"Wood","l":14,"y":48.0,"e":3,"f":46.6},{"p":"i","m":"Wood","l":15,"y":45.5,"e":3,"f":45.4},
{"p":"i","m":"Polystyrene","l":1,"y":32.6,"e":3,"f":35.3},{"p":"i","m":"Polystyrene","l":2,"y":48.3,"e":4,"f":41.3},{"p":"i","m":"Polystyrene","l":3,"y":46.0,"e":3,"f":45.6},{"p":"i","m":"Polystyrene","l":4,"y":46.6,"e":4,"f":48.1},{"p":"i","m":"Polystyrene","l":5,"y":47.3,"e":3,"f":48.7},{"p":"i","m":"Polystyrene","l":6,"y":48.3,"e":3,"f":48.4},{"p":"i","m":"Polystyrene","l":7,"y":45.5,"e":3,"f":47.1},{"p":"i","m":"Polystyrene","l":8,"y":45.0,"e":3,"f":45.8},{"p":"i","m":"Polystyrene","l":9,"y":45.4,"e":3,"f":45.3},{"p":"i","m":"Polystyrene","l":10,"y":46.0,"e":3,"f":45.4},{"p":"i","m":"Polystyrene","l":11,"y":47.8,"e":3,"f":45.8},{"p":"i","m":"Polystyrene","l":12,"y":44.8,"e":3,"f":46.5},{"p":"i","m":"Polystyrene","l":13,"y":45.4,"e":3,"f":46.8},{"p":"i","m":"Polystyrene","l":14,"y":48.4,"e":4,"f":46.8},{"p":"i","m":"Polystyrene","l":15,"y":46.0,"e":3,"f":46.2},
{"p":"j","m":"Metal","l":1,"y":54.4,"e":4,"f":54.4},{"p":"j","m":"Metal","l":2,"y":58.4,"e":6,"f":58.4},{"p":"j","m":"Metal","l":3,"y":59.6,"e":5,"f":60.0},{"p":"j","m":"Metal","l":4,"y":59.6,"e":4,"f":60.0},{"p":"j","m":"Metal","l":5,"y":62.1,"e":5,"f":59.0},{"p":"j","m":"Metal","l":6,"y":55.0,"e":4,"f":57.8},{"p":"j","m":"Metal","l":7,"y":56.6,"e":4,"f":56.6},{"p":"j","m":"Metal","l":8,"y":53.2,"e":4,"f":55.6},{"p":"j","m":"Metal","l":9,"y":53.2,"e":4,"f":55.1},{"p":"j","m":"Metal","l":10,"y":55.5,"e":4,"f":55.1},{"p":"j","m":"Metal","l":11,"y":58.1,"e":4,"f":55.6},{"p":"j","m":"Metal","l":12,"y":54.4,"e":4,"f":56.0},{"p":"j","m":"Metal","l":13,"y":55.8,"e":4,"f":56.6},{"p":"j","m":"Metal","l":14,"y":58.1,"e":4,"f":56.8},{"p":"j","m":"Metal","l":15,"y":54.8,"e":3,"f":55.4},
{"p":"j","m":"Wood","l":1,"y":55.8,"e":4,"f":55.8},{"p":"j","m":"Wood","l":2,"y":56.0,"e":5,"f":56.6},{"p":"j","m":"Wood","l":3,"y":57.5,"e":5,"f":57.2},{"p":"j","m":"Wood","l":4,"y":57.0,"e":4,"f":57.6},{"p":"j","m":"Wood","l":5,"y":57.5,"e":4,"f":57.6},{"p":"j","m":"Wood","l":6,"y":57.5,"e":4,"f":57.2},{"p":"j","m":"Wood","l":7,"y":56.5,"e":4,"f":56.8},{"p":"j","m":"Wood","l":8,"y":56.0,"e":4,"f":56.2},{"p":"j","m":"Wood","l":9,"y":55.5,"e":4,"f":55.6},{"p":"j","m":"Wood","l":10,"y":55.5,"e":4,"f":55.4},{"p":"j","m":"Wood","l":11,"y":56.0,"e":4,"f":55.4},{"p":"j","m":"Wood","l":12,"y":55.0,"e":4,"f":55.1},{"p":"j","m":"Wood","l":13,"y":54.5,"e":4,"f":54.7},{"p":"j","m":"Wood","l":14,"y":54.0,"e":4,"f":53.9},{"p":"j","m":"Wood","l":15,"y":51.0,"e":4,"f":51.1},
{"p":"j","m":"Polystyrene","l":1,"y":45.9,"e":3,"f":48.1},{"p":"j","m":"Polystyrene","l":2,"y":56.8,"e":5,"f":52.0},{"p":"j","m":"Polystyrene","l":3,"y":53.9,"e":4,"f":55.0},{"p":"j","m":"Polystyrene","l":4,"y":53.6,"e":4,"f":56.8},{"p":"j","m":"Polystyrene","l":5,"y":57.0,"e":4,"f":57.5},{"p":"j","m":"Polystyrene","l":6,"y":58.5,"e":4,"f":57.2},{"p":"j","m":"Polystyrene","l":7,"y":56.6,"e":4,"f":56.6},{"p":"j","m":"Polystyrene","l":8,"y":53.2,"e":4,"f":55.8},{"p":"j","m":"Polystyrene","l":9,"y":58.4,"e":4,"f":55.0},{"p":"j","m":"Polystyrene","l":10,"y":55.3,"e":4,"f":54.1},{"p":"j","m":"Polystyrene","l":11,"y":52.9,"e":4,"f":53.3},{"p":"j","m":"Polystyrene","l":12,"y":52.3,"e":3,"f":53.0},{"p":"j","m":"Polystyrene","l":13,"y":55.5,"e":3,"f":53.2},{"p":"j","m":"Polystyrene","l":14,"y":51.5,"e":3,"f":53.9},{"p":"j","m":"Polystyrene","l":15,"y":57.3,"e":3,"f":55.4},
{"p":"k","m":"Metal","l":1,"y":353,"e":20,"f":353},{"p":"k","m":"Metal","l":2,"y":351,"e":25,"f":351},{"p":"k","m":"Metal","l":3,"y":342.5,"e":20,"f":347.5},{"p":"k","m":"Metal","l":4,"y":316,"e":20,"f":344},{"p":"k","m":"Metal","l":5,"y":318.6,"e":20,"f":339.5},{"p":"k","m":"Metal","l":6,"y":354,"e":20,"f":336},{"p":"k","m":"Metal","l":7,"y":346,"e":20,"f":334},{"p":"k","m":"Metal","l":8,"y":315.3,"e":40,"f":332},{"p":"k","m":"Metal","l":9,"y":340,"e":25,"f":331},{"p":"k","m":"Metal","l":10,"y":332,"e":20,"f":331},{"p":"k","m":"Metal","l":11,"y":325,"e":20,"f":331},{"p":"k","m":"Metal","l":12,"y":325,"e":20,"f":332},{"p":"k","m":"Metal","l":13,"y":333,"e":20,"f":334},{"p":"k","m":"Metal","l":14,"y":313.9,"e":20,"f":335.4},{"p":"k","m":"Metal","l":15,"y":343,"e":20,"f":337.5},
{"p":"k","m":"Wood","l":1,"y":339.5,"e":30,"f":351},{"p":"k","m":"Wood","l":2,"y":355,"e":30,"f":347.5},{"p":"k","m":"Wood","l":3,"y":350,"e":30,"f":346},{"p":"k","m":"Wood","l":4,"y":331,"e":25,"f":346},{"p":"k","m":"Wood","l":5,"y":335,"e":25,"f":347.5},{"p":"k","m":"Wood","l":6,"y":352,"e":30,"f":352},{"p":"k","m":"Wood","l":7,"y":365,"e":25,"f":353},{"p":"k","m":"Wood","l":8,"y":352,"e":30,"f":353},{"p":"k","m":"Wood","l":9,"y":320,"e":30,"f":352},{"p":"k","m":"Wood","l":10,"y":333,"e":25,"f":349},{"p":"k","m":"Wood","l":11,"y":372,"e":25,"f":346},{"p":"k","m":"Wood","l":12,"y":340,"e":30,"f":344},{"p":"k","m":"Wood","l":13,"y":330,"e":25,"f":344},{"p":"k","m":"Wood","l":14,"y":345,"e":30,"f":346},{"p":"k","m":"Wood","l":15,"y":348,"e":25,"f":349},
{"p":"k","m":"Polystyrene","l":1,"y":408,"e":25,"f":388},{"p":"k","m":"Polystyrene","l":2,"y":374.4,"e":25,"f":375.8},{"p":"k","m":"Polystyrene","l":3,"y":361,"e":25,"f":365.7},{"p":"k","m":"Polystyrene","l":4,"y":362,"e":20,"f":357.6},{"p":"k","m":"Polystyrene","l":5,"y":340,"e":20,"f":351},{"p":"k","m":"Polystyrene","l":6,"y":390,"e":20,"f":345.7},{"p":"k","m":"Polystyrene","l":7,"y":345,"e":20,"f":343},{"p":"k","m":"Polystyrene","l":8,"y":353,"e":20,"f":342},{"p":"k","m":"Polystyrene","l":9,"y":340,"e":20,"f":342.5},{"p":"k","m":"Polystyrene","l":10,"y":340,"e":20,"f":346},{"p":"k","m":"Polystyrene","l":11,"y":340,"e":20,"f":349},{"p":"k","m":"Polystyrene","l":12,"y":362.4,"e":20,"f":352},{"p":"k","m":"Polystyrene","l":13,"y":353,"e":20,"f":354},{"p":"k","m":"Polystyrene","l":14,"y":384.5,"e":25,"f":355.4},{"p":"k","m":"Polystyrene","l":15,"y":345,"e":20,"f":354},
{"p":"l","m":"Metal","l":1,"y":273.5,"e":20,"f":273.5},{"p":"l","m":"Metal","l":2,"y":262,"e":25,"f":260},{"p":"l","m":"Metal","l":3,"y":252,"e":20,"f":251.3},{"p":"l","m":"Metal","l":4,"y":246,"e":20,"f":246.6},{"p":"l","m":"Metal","l":5,"y":223,"e":25,"f":242},{"p":"l","m":"Metal","l":6,"y":250,"e":20,"f":241.5},{"p":"l","m":"Metal","l":7,"y":248,"e":20,"f":240},{"p":"l","m":"Metal","l":8,"y":236.6,"e":20,"f":239.5},{"p":"l","m":"Metal","l":9,"y":228.6,"e":20,"f":239},{"p":"l","m":"Metal","l":10,"y":240,"e":20,"f":239},{"p":"l","m":"Metal","l":11,"y":246.6,"e":20,"f":238.5},{"p":"l","m":"Metal","l":12,"y":240,"e":20,"f":238.5},{"p":"l","m":"Metal","l":13,"y":238,"e":20,"f":238.4},{"p":"l","m":"Metal","l":14,"y":228.6,"e":20,"f":242},{"p":"l","m":"Metal","l":15,"y":256.7,"e":20,"f":251.3},
{"p":"l","m":"Wood","l":1,"y":270,"e":25,"f":270.3},{"p":"l","m":"Wood","l":2,"y":262,"e":25,"f":265},{"p":"l","m":"Wood","l":3,"y":258,"e":25,"f":260},{"p":"l","m":"Wood","l":4,"y":250,"e":25,"f":256.7},{"p":"l","m":"Wood","l":5,"y":255,"e":25,"f":255},{"p":"l","m":"Wood","l":6,"y":252,"e":25,"f":253.7},{"p":"l","m":"Wood","l":7,"y":250,"e":25,"f":252.3},{"p":"l","m":"Wood","l":8,"y":255,"e":25,"f":252},{"p":"l","m":"Wood","l":9,"y":245,"e":25,"f":252},{"p":"l","m":"Wood","l":10,"y":250,"e":25,"f":252},{"p":"l","m":"Wood","l":11,"y":255,"e":25,"f":252.3},{"p":"l","m":"Wood","l":12,"y":250,"e":25,"f":253.7},{"p":"l","m":"Wood","l":13,"y":255,"e":25,"f":256.7},{"p":"l","m":"Wood","l":14,"y":262,"e":25,"f":261.3},{"p":"l","m":"Wood","l":15,"y":270,"e":25,"f":270.3},
{"p":"l","m":"Polystyrene","l":1,"y":305.8,"e":25,"f":297},{"p":"l","m":"Polystyrene","l":2,"y":291.7,"e":25,"f":280},{"p":"l","m":"Polystyrene","l":3,"y":262.6,"e":20,"f":268},{"p":"l","m":"Polystyrene","l":4,"y":266.8,"e":20,"f":260},{"p":"l","m":"Polystyrene","l":5,"y":255,"e":20,"f":256.7},{"p":"l","m":"Polystyrene","l":6,"y":251.3,"e":20,"f":255.7},{"p":"l","m":"Polystyrene","l":7,"y":255,"e":20,"f":255},{"p":"l","m":"Polystyrene","l":8,"y":269,"e":20,"f":255},{"p":"l","m":"Polystyrene","l":9,"y":250,"e":20,"f":255.7},{"p":"l","m":"Polystyrene","l":10,"y":252,"e":20,"f":256.7},{"p":"l","m":"Polystyrene","l":11,"y":258,"e":20,"f":258},{"p":"l","m":"Polystyrene","l":12,"y":258,"e":20,"f":259},{"p":"l","m":"Polystyrene","l":13,"y":255,"e":20,"f":261.3},{"p":"l","m":"Polystyrene","l":14,"y":287,"e":25,"f":265},{"p":"l","m":"Polystyrene","l":15,"y":268,"e":20,"f":273.5}
]},
"concat":[
{"width":285,"height":123,"title":{"text":"F\u0332u\u0332l\u0332l\u0332 \u0332v\u0332i\u0332s\u0332i\u0332o\u0332n\u0332","dx":9},
 "layer":[
 {"data":{"name":"d"},"transform":[{"filter":"datum.p=='a'"}],
  "encoding":{"x":{"field":"l","type":"quantitative","scale":{"domain":[0.5,15],"nice":false,"zero":false},"axis":{"values":[1,2,3,4,5,6,7,8,9,10,11,12,13,14,15],"labels":false,"title":null}},
   "y":{"field":"y","type":"quantitative","scale":{"domain":[-1.474,1.3],"nice":false,"zero":false},"axis":{"values":[-1,-0.5,0,0.5,1],"format":".1f","title":["Normalized","heaviness rating"]}},
   "color":{"field":"m","type":"nominal","scale":{"domain":["Metal","Wood","Polystyrene"],"range":["#111111","#b8b8b8","#777777"]},"legend":null}},
  "layer":[
   {"mark":{"type":"errorbar","thickness":1},"encoding":{"yError":{"field":"e"}}},
   {"mark":{"type":"line","interpolate":"monotone","strokeWidth":1.8},"encoding":{"y":{"field":"f","type":"quantitative","scale":{"domain":[-1.474,1.3],"nice":false,"zero":false},"axis":null}}},
   {"mark":{"type":"point","filled":true,"size":12,"opacity":1},"encoding":{"shape":{"field":"m","type":"nominal","scale":{"domain":["Metal","Wood","Polystyrene"],"range":["circle","triangle-down","square"]},"legend":null}}}
  ]},
 {"data":{"values":[{}]},"mark":{"type":"text","text":"(a)","align":"left","baseline":"middle","dx":-46,"dy":-5,"fontSize":15,"fontWeight":"bold","color":"#111"},
  "encoding":{"x":{"datum":0.5,"type":"quantitative","scale":{"domain":[0.5,15],"nice":false,"zero":false},"axis":null},"y":{"datum":1.3,"type":"quantitative","scale":{"domain":[-1.474,1.3],"nice":false,"zero":false},"axis":null}}}
 ]},
{"width":285,"height":123,"title":{"text":"N\u0332o\u0332 \u0332v\u0332i\u0332s\u0332i\u0332o\u0332n\u0332","dx":-18},
 "layer":[
 {"data":{"name":"d"},"transform":[{"filter":"datum.p=='b'"}],
  "encoding":{"x":{"field":"l","type":"quantitative","scale":{"domain":[0.5,15],"nice":false,"zero":false},"axis":{"values":[1,2,3,4,5,6,7,8,9,10,11,12,13,14,15],"labels":false,"title":null}},
   "y":{"field":"y","type":"quantitative","scale":{"domain":[-1.474,1.3],"nice":false,"zero":false},"axis":null},
   "color":{"field":"m","type":"nominal","scale":{"domain":["Metal","Wood","Polystyrene"],"range":["#111111","#b8b8b8","#777777"]},
    "legend":{"orient":"none","legendX":531,"legendY":-48,"title":null,"padding":0,"labelFontSize":11,"labelFontWeight":"bold","labelColor":"#222","symbolSize":36,"symbolStrokeWidth":2,"rowPadding":3,"labelOffset":20,
     "encode":{"symbols":{
      "shape":{"condition":[{"test":"datum.value==='Metal'","value":"M-6.8,0H6.8M-0.8,0A0.8,0.8,0,1,0,0.8,0A0.8,0.8,0,1,0,-0.8,0Z"},{"test":"datum.value==='Wood'","value":"M-6.8,0H6.8M-1,-0.7H1L0,0.9Z"}],"value":"M-6.8,0H6.8M-0.75,-0.75H0.75V0.75H-0.75Z"},
      "fill":{"condition":[{"test":"datum.value==='Metal'","value":"#111111"},{"test":"datum.value==='Wood'","value":"#b8b8b8"}],"value":"#777777"},
      "stroke":{"condition":[{"test":"datum.value==='Metal'","value":"#111111"},{"test":"datum.value==='Wood'","value":"#b8b8b8"}],"value":"#777777"},
      "strokeWidth":{"value":2},"opacity":{"value":1}}}}}},
  "layer":[
   {"mark":{"type":"errorbar","thickness":1},"encoding":{"yError":{"field":"e"}}},
   {"mark":{"type":"line","interpolate":"monotone","strokeWidth":1.8},"encoding":{"y":{"field":"f","type":"quantitative","scale":{"domain":[-1.474,1.3],"nice":false,"zero":false},"axis":null}}},
   {"mark":{"type":"point","filled":true,"size":12,"opacity":1},"encoding":{"shape":{"field":"m","type":"nominal","scale":{"domain":["Metal","Wood","Polystyrene"],"range":["circle","triangle-down","square"]},"legend":null}}}
  ]},
 {"data":{"values":[{}]},"mark":{"type":"text","text":"(b)","align":"right","baseline":"middle","dx":2,"dy":-5,"fontSize":15,"fontWeight":"bold","color":"#111"},
  "encoding":{"x":{"datum":0.5,"type":"quantitative","scale":{"domain":[0.5,15],"nice":false,"zero":false},"axis":null},"y":{"datum":1.3,"type":"quantitative","scale":{"domain":[-1.474,1.3],"nice":false,"zero":false},"axis":null}}}
 ]},
{"width":285,"height":123,
 "layer":[
 {"data":{"name":"d"},"transform":[{"filter":"datum.p=='c'"}],
  "encoding":{"x":{"field":"l","type":"quantitative","scale":{"domain":[0.5,15],"nice":false,"zero":false},"axis":{"values":[1,2,3,4,5,6,7,8,9,10,11,12,13,14,15],"labels":false,"title":null}},
   "y":{"field":"y","type":"quantitative","scale":{"domain":[6.215,13.82],"nice":false,"zero":false},"axis":{"values":[7,8,9,10,11,12,13],"title":["Max grip","force (N)"]}},
   "color":{"field":"m","type":"nominal","scale":{"domain":["Metal","Wood","Polystyrene"],"range":["#111111","#b8b8b8","#777777"]},"legend":null}},
  "layer":[
   {"mark":{"type":"errorbar","thickness":1},"encoding":{"yError":{"field":"e"}}},
   {"mark":{"type":"line","interpolate":"monotone","strokeWidth":1.8},"encoding":{"y":{"field":"f","type":"quantitative","scale":{"domain":[6.215,13.82],"nice":false,"zero":false},"axis":null}}},
   {"mark":{"type":"point","filled":true,"size":12,"opacity":1},"encoding":{"shape":{"field":"m","type":"nominal","scale":{"domain":["Metal","Wood","Polystyrene"],"range":["circle","triangle-down","square"]},"legend":null}}}
  ]},
 {"data":{"values":[{}]},"mark":{"type":"text","text":"(c)","align":"left","baseline":"middle","dx":-46,"dy":4,"fontSize":15,"fontWeight":"bold","color":"#111"},
  "encoding":{"x":{"datum":0.5,"type":"quantitative","scale":{"domain":[0.5,15],"nice":false,"zero":false},"axis":null},"y":{"datum":13.82,"type":"quantitative","scale":{"domain":[6.215,13.82],"nice":false,"zero":false},"axis":null}}}
 ]},
{"width":285,"height":123,
 "layer":[
 {"data":{"name":"d"},"transform":[{"filter":"datum.p=='d'"}],
  "encoding":{"x":{"field":"l","type":"quantitative","scale":{"domain":[0.5,15],"nice":false,"zero":false},"axis":{"values":[1,2,3,4,5,6,7,8,9,10,11,12,13,14,15],"labels":false,"title":null}},
   "y":{"field":"y","type":"quantitative","scale":{"domain":[6.215,13.82],"nice":false,"zero":false},"axis":null},
   "color":{"field":"m","type":"nominal","scale":{"domain":["Metal","Wood","Polystyrene"],"range":["#111111","#b8b8b8","#777777"]},"legend":null}},
  "layer":[
   {"mark":{"type":"errorbar","thickness":1},"encoding":{"yError":{"field":"e"}}},
   {"mark":{"type":"line","interpolate":"monotone","strokeWidth":1.8},"encoding":{"y":{"field":"f","type":"quantitative","scale":{"domain":[6.215,13.82],"nice":false,"zero":false},"axis":null}}},
   {"mark":{"type":"point","filled":true,"size":12,"opacity":1},"encoding":{"shape":{"field":"m","type":"nominal","scale":{"domain":["Metal","Wood","Polystyrene"],"range":["circle","triangle-down","square"]},"legend":null}}}
  ]},
 {"data":{"name":"s"},"transform":[{"filter":"datum.p=='d'"}],"mark":{"type":"text","text":"*","baseline":"middle","dy":3,"fontSize":13,"fontWeight":"bold","color":"#222"},
  "encoding":{"x":{"field":"l","type":"quantitative","scale":{"domain":[0.5,15],"nice":false,"zero":false},"axis":null},"y":{"field":"y","type":"quantitative","scale":{"domain":[6.215,13.82],"nice":false,"zero":false},"axis":null}}},
 {"data":{"values":[{}]},"mark":{"type":"text","text":"(d)","align":"right","baseline":"middle","dx":2,"dy":11,"fontSize":15,"fontWeight":"bold","color":"#111"},
  "encoding":{"x":{"datum":0.5,"type":"quantitative","scale":{"domain":[0.5,15],"nice":false,"zero":false},"axis":null},"y":{"datum":13.82,"type":"quantitative","scale":{"domain":[6.215,13.82],"nice":false,"zero":false},"axis":null}}}
 ]},
{"width":285,"height":123,
 "layer":[
 {"data":{"name":"d"},"transform":[{"filter":"datum.p=='e'"}],
  "encoding":{"x":{"field":"l","type":"quantitative","scale":{"domain":[0.5,15],"nice":false,"zero":false},"axis":{"values":[1,2,3,4,5,6,7,8,9,10,11,12,13,14,15],"labels":false,"title":null}},
   "y":{"field":"y","type":"quantitative","scale":{"domain":[8.002,9.193],"nice":false,"zero":false},"axis":{"values":[8.2,8.4,8.6,8.8,9.0],"format":".1f","title":["Max load","force (N)"]}},
   "color":{"field":"m","type":"nominal","scale":{"domain":["Metal","Wood","Polystyrene"],"range":["#111111","#b8b8b8","#777777"]},"legend":null}},
  "layer":[
   {"mark":{"type":"errorbar","thickness":1},"encoding":{"yError":{"field":"e"}}},
   {"mark":{"type":"line","interpolate":"monotone","strokeWidth":1.8},"encoding":{"y":{"field":"f","type":"quantitative","scale":{"domain":[8.002,9.193],"nice":false,"zero":false},"axis":null}}},
   {"mark":{"type":"point","filled":true,"size":12,"opacity":1},"encoding":{"shape":{"field":"m","type":"nominal","scale":{"domain":["Metal","Wood","Polystyrene"],"range":["circle","triangle-down","square"]},"legend":null}}}
  ]},
 {"data":{"values":[{}]},"mark":{"type":"text","text":"(e)","align":"left","baseline":"middle","dx":-46,"dy":3,"fontSize":15,"fontWeight":"bold","color":"#111"},
  "encoding":{"x":{"datum":0.5,"type":"quantitative","scale":{"domain":[0.5,15],"nice":false,"zero":false},"axis":null},"y":{"datum":9.193,"type":"quantitative","scale":{"domain":[8.002,9.193],"nice":false,"zero":false},"axis":null}}}
 ]},
{"width":285,"height":123,
 "layer":[
 {"data":{"name":"d"},"transform":[{"filter":"datum.p=='f'"}],
  "encoding":{"x":{"field":"l","type":"quantitative","scale":{"domain":[0.5,15],"nice":false,"zero":false},"axis":{"values":[1,2,3,4,5,6,7,8,9,10,11,12,13,14,15],"labels":false,"title":null}},
   "y":{"field":"y","type":"quantitative","scale":{"domain":[8.002,9.193],"nice":false,"zero":false},"axis":null},
   "color":{"field":"m","type":"nominal","scale":{"domain":["Metal","Wood","Polystyrene"],"range":["#111111","#b8b8b8","#777777"]},"legend":null}},
  "layer":[
   {"mark":{"type":"errorbar","thickness":1},"encoding":{"yError":{"field":"e"}}},
   {"mark":{"type":"line","interpolate":"monotone","strokeWidth":1.8},"encoding":{"y":{"field":"f","type":"quantitative","scale":{"domain":[8.002,9.193],"nice":false,"zero":false},"axis":null}}},
   {"mark":{"type":"point","filled":true,"size":12,"opacity":1},"encoding":{"shape":{"field":"m","type":"nominal","scale":{"domain":["Metal","Wood","Polystyrene"],"range":["circle","triangle-down","square"]},"legend":null}}}
  ]},
 {"data":{"name":"s"},"transform":[{"filter":"datum.p=='f'"}],"mark":{"type":"text","text":"*","baseline":"middle","dy":3,"fontSize":13,"fontWeight":"bold","color":"#222"},
  "encoding":{"x":{"field":"l","type":"quantitative","scale":{"domain":[0.5,15],"nice":false,"zero":false},"axis":null},"y":{"field":"y","type":"quantitative","scale":{"domain":[8.002,9.193],"nice":false,"zero":false},"axis":null}}},
 {"data":{"values":[{}]},"mark":{"type":"text","text":"(f)","align":"right","baseline":"middle","dx":2,"dy":4,"fontSize":15,"fontWeight":"bold","color":"#111"},
  "encoding":{"x":{"datum":0.5,"type":"quantitative","scale":{"domain":[0.5,15],"nice":false,"zero":false},"axis":null},"y":{"datum":9.193,"type":"quantitative","scale":{"domain":[8.002,9.193],"nice":false,"zero":false},"axis":null}}}
 ]},
{"width":285,"height":123,
 "layer":[
 {"data":{"name":"d"},"transform":[{"filter":"datum.p=='g'"}],
  "encoding":{"x":{"field":"l","type":"quantitative","scale":{"domain":[0.5,15],"nice":false,"zero":false},"axis":{"values":[1,2,3,4,5,6,7,8,9,10,11,12,13,14,15],"labels":false,"title":null}},
   "y":{"field":"y","type":"quantitative","scale":{"domain":[25.57,80.66],"nice":false,"zero":false},"axis":{"values":[30,40,50,60,70],"title":["Max grip","force rate (N/s)"]}},
   "color":{"field":"m","type":"nominal","scale":{"domain":["Metal","Wood","Polystyrene"],"range":["#111111","#b8b8b8","#777777"]},"legend":null}},
  "layer":[
   {"mark":{"type":"errorbar","thickness":1},"encoding":{"yError":{"field":"e"}}},
   {"mark":{"type":"line","interpolate":"monotone","strokeWidth":1.8},"encoding":{"y":{"field":"f","type":"quantitative","scale":{"domain":[25.57,80.66],"nice":false,"zero":false},"axis":null}}},
   {"mark":{"type":"point","filled":true,"size":12,"opacity":1},"encoding":{"shape":{"field":"m","type":"nominal","scale":{"domain":["Metal","Wood","Polystyrene"],"range":["circle","triangle-down","square"]},"legend":null}}}
  ]},
 {"data":{"name":"s"},"transform":[{"filter":"datum.p=='g'"}],"mark":{"type":"text","text":"*","baseline":"middle","dy":3,"fontSize":13,"fontWeight":"bold","color":"#222"},
  "encoding":{"x":{"field":"l","type":"quantitative","scale":{"domain":[0.5,15],"nice":false,"zero":false},"axis":null},"y":{"field":"y","type":"quantitative","scale":{"domain":[25.57,80.66],"nice":false,"zero":false},"axis":null}}},
 {"data":{"values":[{}]},"mark":{"type":"text","text":"(g)","align":"left","baseline":"middle","dx":-46,"dy":12,"fontSize":15,"fontWeight":"bold","color":"#111"},
  "encoding":{"x":{"datum":0.5,"type":"quantitative","scale":{"domain":[0.5,15],"nice":false,"zero":false},"axis":null},"y":{"datum":80.66,"type":"quantitative","scale":{"domain":[25.57,80.66],"nice":false,"zero":false},"axis":null}}}
 ]},
{"width":285,"height":123,
 "layer":[
 {"data":{"name":"d"},"transform":[{"filter":"datum.p=='h'"}],
  "encoding":{"x":{"field":"l","type":"quantitative","scale":{"domain":[0.5,15],"nice":false,"zero":false},"axis":{"values":[1,2,3,4,5,6,7,8,9,10,11,12,13,14,15],"labels":false,"title":null}},
   "y":{"field":"y","type":"quantitative","scale":{"domain":[25.57,80.66],"nice":false,"zero":false},"axis":null},
   "color":{"field":"m","type":"nominal","scale":{"domain":["Metal","Wood","Polystyrene"],"range":["#111111","#b8b8b8","#777777"]},"legend":null}},
  "layer":[
   {"mark":{"type":"errorbar","thickness":1},"encoding":{"yError":{"field":"e"}}},
   {"mark":{"type":"line","interpolate":"monotone","strokeWidth":1.8},"encoding":{"y":{"field":"f","type":"quantitative","scale":{"domain":[25.57,80.66],"nice":false,"zero":false},"axis":null}}},
   {"mark":{"type":"point","filled":true,"size":12,"opacity":1},"encoding":{"shape":{"field":"m","type":"nominal","scale":{"domain":["Metal","Wood","Polystyrene"],"range":["circle","triangle-down","square"]},"legend":null}}}
  ]},
 {"data":{"name":"s"},"transform":[{"filter":"datum.p=='h'"}],"mark":{"type":"text","text":"*","baseline":"middle","dy":3,"fontSize":13,"fontWeight":"bold","color":"#222"},
  "encoding":{"x":{"field":"l","type":"quantitative","scale":{"domain":[0.5,15],"nice":false,"zero":false},"axis":null},"y":{"field":"y","type":"quantitative","scale":{"domain":[25.57,80.66],"nice":false,"zero":false},"axis":null}}},
 {"data":{"values":[{}]},"mark":{"type":"text","text":"(h)","align":"right","baseline":"middle","dx":2,"dy":13,"fontSize":15,"fontWeight":"bold","color":"#111"},
  "encoding":{"x":{"datum":0.5,"type":"quantitative","scale":{"domain":[0.5,15],"nice":false,"zero":false},"axis":null},"y":{"datum":80.66,"type":"quantitative","scale":{"domain":[25.57,80.66],"nice":false,"zero":false},"axis":null}}}
 ]},
{"width":285,"height":123,
 "layer":[
 {"data":{"name":"d"},"transform":[{"filter":"datum.p=='i'"}],
  "encoding":{"x":{"field":"l","type":"quantitative","scale":{"domain":[0.5,15],"nice":false,"zero":false},"axis":{"values":[1,2,3,4,5,6,7,8,9,10,11,12,13,14,15],"labels":false,"title":null}},
   "y":{"field":"y","type":"quantitative","scale":{"domain":[26.38,71.38],"nice":false,"zero":false},"axis":{"values":[30,40,50,60],"title":["Max load","force rate (N/s)"]}},
   "color":{"field":"m","type":"nominal","scale":{"domain":["Metal","Wood","Polystyrene"],"range":["#111111","#b8b8b8","#777777"]},"legend":null}},
  "layer":[
   {"mark":{"type":"errorbar","thickness":1},"encoding":{"yError":{"field":"e"}}},
   {"mark":{"type":"line","interpolate":"monotone","strokeWidth":1.8},"encoding":{"y":{"field":"f","type":"quantitative","scale":{"domain":[26.38,71.38],"nice":false,"zero":false},"axis":null}}},
   {"mark":{"type":"point","filled":true,"size":12,"opacity":1},"encoding":{"shape":{"field":"m","type":"nominal","scale":{"domain":["Metal","Wood","Polystyrene"],"range":["circle","triangle-down","square"]},"legend":null}}}
  ]},
 {"data":{"name":"s"},"transform":[{"filter":"datum.p=='i'"}],"mark":{"type":"text","text":"*","baseline":"middle","dy":3,"fontSize":13,"fontWeight":"bold","color":"#222"},
  "encoding":{"x":{"field":"l","type":"quantitative","scale":{"domain":[0.5,15],"nice":false,"zero":false},"axis":null},"y":{"field":"y","type":"quantitative","scale":{"domain":[26.38,71.38],"nice":false,"zero":false},"axis":null}}},
 {"data":{"values":[{}]},"mark":{"type":"text","text":"(i)","align":"left","baseline":"middle","dx":-46,"dy":12,"fontSize":15,"fontWeight":"bold","color":"#111"},
  "encoding":{"x":{"datum":0.5,"type":"quantitative","scale":{"domain":[0.5,15],"nice":false,"zero":false},"axis":null},"y":{"datum":71.38,"type":"quantitative","scale":{"domain":[26.38,71.38],"nice":false,"zero":false},"axis":null}}}
 ]},
{"width":285,"height":123,
 "layer":[
 {"data":{"name":"d"},"transform":[{"filter":"datum.p=='j'"}],
  "encoding":{"x":{"field":"l","type":"quantitative","scale":{"domain":[0.5,15],"nice":false,"zero":false},"axis":{"values":[1,2,3,4,5,6,7,8,9,10,11,12,13,14,15],"labels":false,"title":null}},
   "y":{"field":"y","type":"quantitative","scale":{"domain":[26.38,71.38],"nice":false,"zero":false},"axis":null},
   "color":{"field":"m","type":"nominal","scale":{"domain":["Metal","Wood","Polystyrene"],"range":["#111111","#b8b8b8","#777777"]},"legend":null}},
  "layer":[
   {"mark":{"type":"errorbar","thickness":1},"encoding":{"yError":{"field":"e"}}},
   {"mark":{"type":"line","interpolate":"monotone","strokeWidth":1.8},"encoding":{"y":{"field":"f","type":"quantitative","scale":{"domain":[26.38,71.38],"nice":false,"zero":false},"axis":null}}},
   {"mark":{"type":"point","filled":true,"size":12,"opacity":1},"encoding":{"shape":{"field":"m","type":"nominal","scale":{"domain":["Metal","Wood","Polystyrene"],"range":["circle","triangle-down","square"]},"legend":null}}}
  ]},
 {"data":{"name":"s"},"transform":[{"filter":"datum.p=='j'"}],"mark":{"type":"text","text":"*","baseline":"middle","dy":3,"fontSize":13,"fontWeight":"bold","color":"#222"},
  "encoding":{"x":{"field":"l","type":"quantitative","scale":{"domain":[0.5,15],"nice":false,"zero":false},"axis":null},"y":{"field":"y","type":"quantitative","scale":{"domain":[26.38,71.38],"nice":false,"zero":false},"axis":null}}},
 {"data":{"values":[{}]},"mark":{"type":"text","text":"(j)","align":"right","baseline":"middle","dx":2,"dy":17,"fontSize":15,"fontWeight":"bold","color":"#111"},
  "encoding":{"x":{"datum":0.5,"type":"quantitative","scale":{"domain":[0.5,15],"nice":false,"zero":false},"axis":null},"y":{"datum":71.38,"type":"quantitative","scale":{"domain":[26.38,71.38],"nice":false,"zero":false},"axis":null}}}
 ]},
{"width":285,"height":123,
 "layer":[
 {"data":{"name":"d"},"transform":[{"filter":"datum.p=='k'"}],
  "encoding":{"x":{"field":"l","type":"quantitative","scale":{"domain":[0.5,15],"nice":false,"zero":false},"axis":{"values":[1,2,3,4,5,6,7,8,9,10,11,12,13,14,15],"title":"Lift"}},
   "y":{"field":"y","type":"quantitative","scale":{"domain":[202.2,450.4],"nice":false,"zero":false},"axis":{"values":[250,300,350,400],"title":["Load phase","duration (ms)"]}},
   "color":{"field":"m","type":"nominal","scale":{"domain":["Metal","Wood","Polystyrene"],"range":["#111111","#b8b8b8","#777777"]},"legend":null}},
  "layer":[
   {"mark":{"type":"errorbar","thickness":1},"encoding":{"yError":{"field":"e"}}},
   {"mark":{"type":"line","interpolate":"monotone","strokeWidth":1.8},"encoding":{"y":{"field":"f","type":"quantitative","scale":{"domain":[202.2,450.4],"nice":false,"zero":false},"axis":null}}},
   {"mark":{"type":"point","filled":true,"size":12,"opacity":1},"encoding":{"shape":{"field":"m","type":"nominal","scale":{"domain":["Metal","Wood","Polystyrene"],"range":["circle","triangle-down","square"]},"legend":null}}}
  ]},
 {"data":{"values":[{}]},"mark":{"type":"text","text":"(k)","align":"left","baseline":"middle","dx":-46,"dy":10,"fontSize":15,"fontWeight":"bold","color":"#111"},
  "encoding":{"x":{"datum":0.5,"type":"quantitative","scale":{"domain":[0.5,15],"nice":false,"zero":false},"axis":null},"y":{"datum":450.4,"type":"quantitative","scale":{"domain":[202.2,450.4],"nice":false,"zero":false},"axis":null}}}
 ]},
{"width":285,"height":123,
 "layer":[
 {"data":{"name":"d"},"transform":[{"filter":"datum.p=='l'"}],
  "encoding":{"x":{"field":"l","type":"quantitative","scale":{"domain":[0.5,15],"nice":false,"zero":false},"axis":{"values":[1,2,3,4,5,6,7,8,9,10,11,12,13,14,15],"title":"Lift"}},
   "y":{"field":"y","type":"quantitative","scale":{"domain":[202.2,450.4],"nice":false,"zero":false},"axis":null},
   "color":{"field":"m","type":"nominal","scale":{"domain":["Metal","Wood","Polystyrene"],"range":["#111111","#b8b8b8","#777777"]},"legend":null}},
  "layer":[
   {"mark":{"type":"errorbar","thickness":1},"encoding":{"yError":{"field":"e"}}},
   {"mark":{"type":"line","interpolate":"monotone","strokeWidth":1.8},"encoding":{"y":{"field":"f","type":"quantitative","scale":{"domain":[202.2,450.4],"nice":false,"zero":false},"axis":null}}},
   {"mark":{"type":"point","filled":true,"size":12,"opacity":1},"encoding":{"shape":{"field":"m","type":"nominal","scale":{"domain":["Metal","Wood","Polystyrene"],"range":["circle","triangle-down","square"]},"legend":null}}}
  ]},
 {"data":{"values":[{}]},"mark":{"type":"text","text":"(l)","align":"right","baseline":"middle","dx":2,"dy":18,"fontSize":15,"fontWeight":"bold","color":"#111"},
  "encoding":{"x":{"datum":0.5,"type":"quantitative","scale":{"domain":[0.5,15],"nice":false,"zero":false},"axis":null},"y":{"datum":450.4,"type":"quantitative","scale":{"domain":[202.2,450.4],"nice":false,"zero":false},"axis":null}}}
 ]}
]
}
